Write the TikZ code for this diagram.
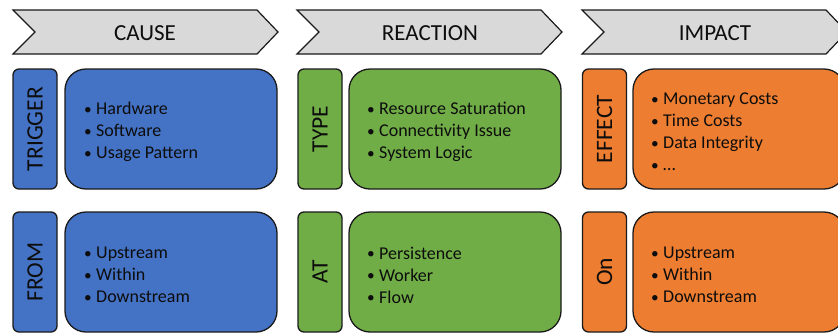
\documentclass[tikz,border=0pt]{standalone}
\usepackage{fontspec}
\usepackage{graphicx}
\setmainfont{Carlito}
\definecolor{cblue}{HTML}{4472C4}
\definecolor{cgreen}{HTML}{70AD47}
\definecolor{corange}{HTML}{ED7D31}
\definecolor{cgray}{HTML}{D9D9D9}
\definecolor{cline}{HTML}{1A1A1A}
\definecolor{ctext}{HTML}{0D0D0D}
\begin{document}
\begin{tikzpicture}[x=1pt,y=-1pt,
  chev/.style={draw=cline,fill=cgray,line width=1.2pt,line join=miter},
  chevtext/.style={font=\fontsize{23}{26}\selectfont,text=ctext},
  smallbox/.style={draw=cline,line width=1.3pt,rounded corners=6pt,minimum width=44pt,minimum height=120pt,inner sep=0pt},
  bigbox/.style={draw=cline,line width=1.3pt,rounded corners=21pt,minimum width=212pt,minimum height=120pt,inner sep=0pt},
  vlabel/.style={font=\fontsize{23.5}{26}\selectfont,text=ctext,rotate=90},
  blist/.style={font=\fontsize{18}{22}\selectfont,text=ctext,align=left,anchor=west,inner sep=0pt}]
\useasboundingbox (0,0) rectangle (838,333);
\newcommand{\bl}[1]{\makebox[12pt][l]{\raisebox{0.5pt}{\scalebox{0.85}{\textbullet}}}#1}
% chevrons
\draw[chev] (13,10) -- (257,10) -- (278,32) -- (257,54) -- (13,54) -- (35,32) -- cycle;
\draw[chev] (297,10) -- (541,10) -- (562,32) -- (541,54) -- (297,54) -- (319,32) -- cycle;
\draw[chev] (582,10) -- (826,10) -- (847,32) -- (826,54) -- (582,54) -- (604,32) -- cycle;
\node[chevtext] (cause) at (145,33) {CAUSE};
\node[chevtext] (reaction) at (430,33) {REACTION};
\node[chevtext] (impact) at (715,33) {IMPACT};
% column 1
\node[smallbox,fill=cblue] (trig) at (35,129) {};
\node[vlabel] (trigl) at (trig.center) {TRIGGER};
\node[bigbox,fill=cblue] (trigb) at (171,129) {};
\node[blist] (trigt) at (84,132) {\bl{Hardware}\\\bl{Software}\\\bl{Usage Pattern}};
\node[smallbox,fill=cblue] (from) at (35,272) {};
\node[vlabel] (froml) at (from.center) {FROM};
\node[bigbox,fill=cblue] (fromb) at (171,272) {};
\node[blist] (fromt) at (84,275) {\bl{Upstream}\\\bl{Within}\\\bl{Downstream}};
% column 2
\node[smallbox,fill=cgreen] (type) at (320,129) {};
\node[vlabel] (typel) at (type.center) {TYPE};
\node[bigbox,fill=cgreen] (typeb) at (455,129) {};
\node[blist] (typet) at (367,132) {\bl{Resource Saturation}\\\bl{Connectivity Issue}\\\bl{System Logic}};
\node[smallbox,fill=cgreen] (at) at (320,272) {};
\node[vlabel] (atl) at (at.center) {AT};
\node[bigbox,fill=cgreen] (atb) at (455,272) {};
\node[blist] (att) at (367,275) {\bl{Persistence}\\\bl{Worker}\\\bl{Flow}};
% column 3
\node[smallbox,fill=corange] (eff) at (604.5,129) {};
\node[vlabel] (effl) at (eff.center) {EFFECT};
\node[bigbox,fill=corange] (effb) at (739,129) {};
\node[blist] (efft) at (651,132) {\bl{Monetary Costs}\\\bl{Time Costs}\\\bl{Data Integrity}\\\bl{\dots}};
\node[smallbox,fill=corange] (on) at (604.5,272) {};
\node[vlabel] (onl) at (on.center) {On};
\node[bigbox,fill=corange] (onb) at (739,272) {};
\node[blist] (ont) at (651,275) {\bl{Upstream}\\\bl{Within}\\\bl{Downstream}};
\end{tikzpicture}
\end{document}
